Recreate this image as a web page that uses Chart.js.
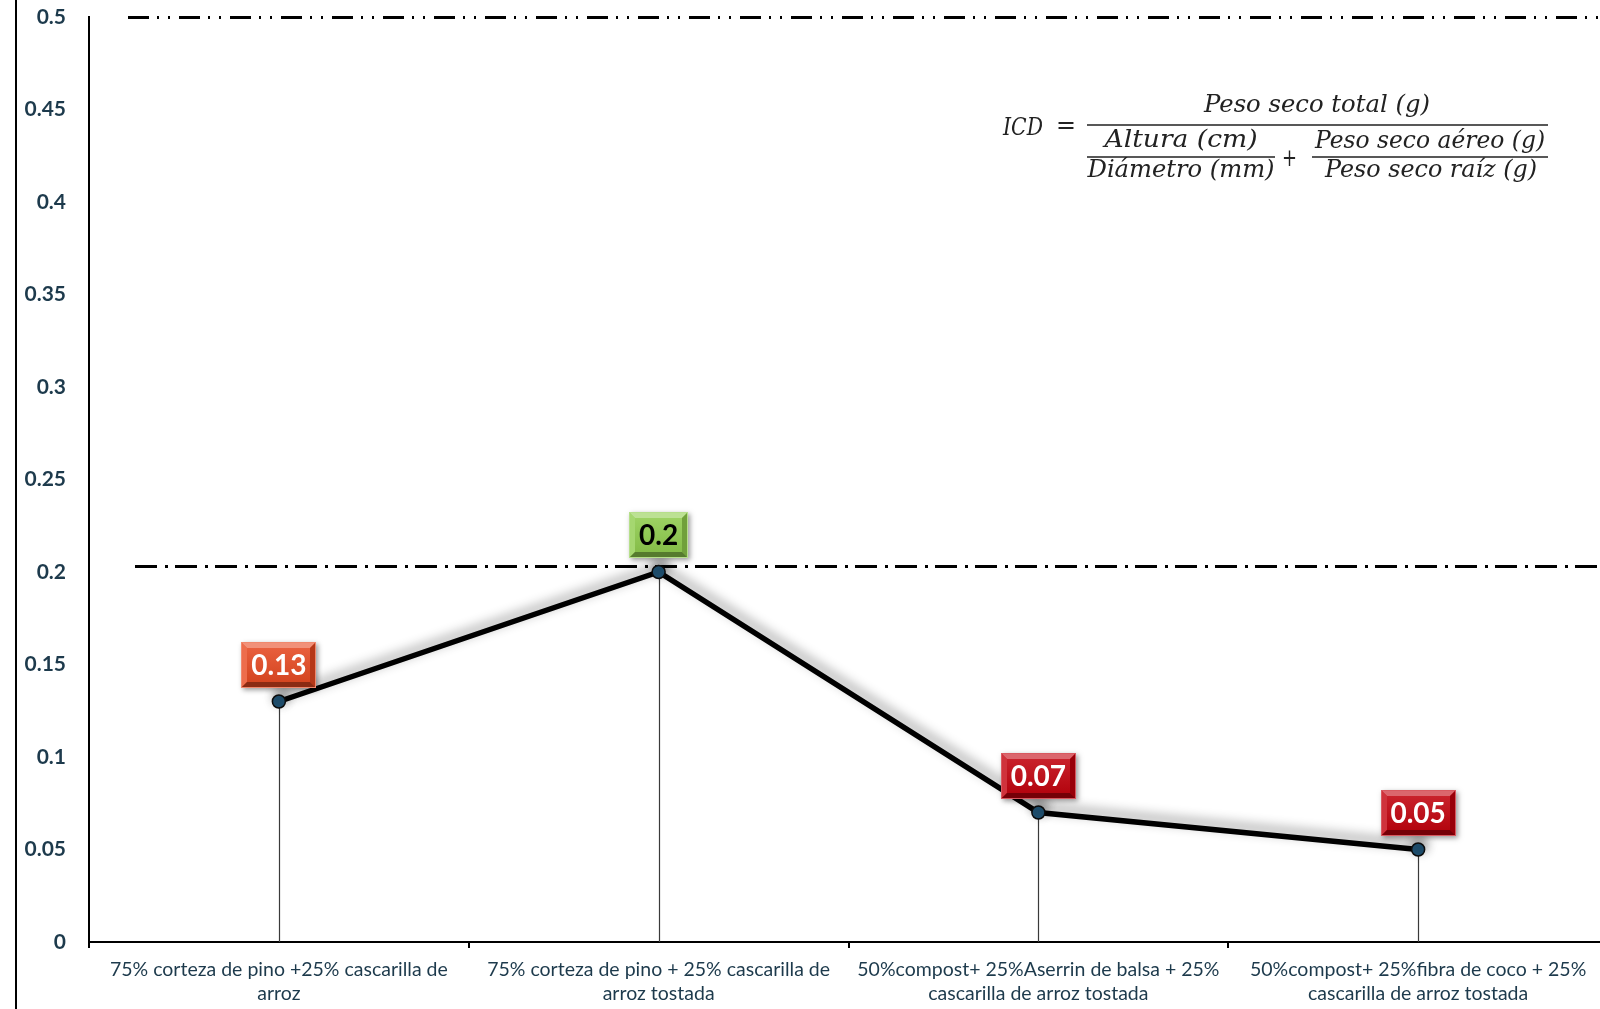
<!DOCTYPE html>
<html>
<head>
<meta charset="utf-8">
<script src="https://cdn.jsdelivr.net/npm/chart.js@4"></script>
<style>
  html, body { margin: 0; padding: 0; background: #fff; overflow: hidden; }
  #wrap { width: 1600px; height: 1009px; overflow: hidden; position: relative; }
  canvas { display: block; }
</style>
</head>
<body>
<div id="wrap"><canvas id="c" width="1608" height="1009"></canvas></div>
<script>
// Substrate mixes (two-line axis labels)
const categories = [
  ["75% corteza de pino +25% cascarilla de", "arroz"],
  ["75% corteza de pino + 25% cascarilla de", "arroz tostada"],
  ["50%compost+ 25%Aserrin de balsa + 25%", "cascarilla de arroz tostada"],
  ["50%compost+ 25%fibra de coco + 25%", "cascarilla de arroz tostada"]
];
// Dickson quality index per mix
const icdValues = [0.13, 0.2, 0.07, 0.05];
// Y axis range and step
const yMin = 0;
const yMax = 0.5;
const yStep = 0.05;
// Horizontal reference levels
const referenceLines = [0.5, 0.203];

// Styling for the value tags
const tagFills = ['#e8481f', '#8fcd4c', '#c3000b', '#c3000b'];
const tagText = ['#ffffff', '#000000', '#ffffff', '#ffffff'];

const axisText = '#1d3a4c';

function shade(hex, amt) {
  const n = parseInt(hex.slice(1), 16);
  let r = (n >> 16) & 255, g = (n >> 8) & 255, b = n & 255;
  const f = v => Math.max(0, Math.min(255, Math.round(amt >= 0 ? v + (255 - v) * amt : v * (1 + amt))));
  return 'rgb(' + f(r) + ',' + f(g) + ',' + f(b) + ')';
}

const framePlugin = {
  id: 'frame',
  afterDraw(chart) {
    const ctx = chart.ctx;
    ctx.save();
    ctx.strokeStyle = '#000';
    ctx.lineWidth = 2;
    ctx.beginPath();
    ctx.moveTo(16, 0);
    ctx.lineTo(16, chart.height);
    ctx.stroke();
    ctx.restore();
  }
};

const refLinePlugin = {
  id: 'refLines',
  beforeDatasetsDraw(chart) {
    const ctx = chart.ctx;
    const y = chart.scales.y;
    const right = chart.chartArea.right;
    const styles = [
      { start: 128, dash: [21, 8, 2, 9, 2, 9] },
      { start: 135, dash: [22, 8, 3, 7] }
    ];
    ctx.save();
    referenceLines.forEach((v, i) => {
      const py = Math.round(y.getPixelForValue(v)) + 0.5;
      const s = styles[i] || styles[1];
      ctx.strokeStyle = '#000';
      ctx.lineWidth = 3;
      ctx.setLineDash(s.dash);
      ctx.beginPath();
      ctx.moveTo(s.start, py);
      ctx.lineTo(right, py);
      ctx.stroke();
    });
    ctx.restore();
  }
};

const dropLinePlugin = {
  id: 'dropLines',
  beforeDatasetsDraw(chart) {
    const ctx = chart.ctx;
    const meta = chart.getDatasetMeta(0);
    const bottom = chart.chartArea.bottom;
    ctx.save();
    ctx.strokeStyle = '#3a3a3a';
    ctx.lineWidth = 1.2;
    meta.data.forEach(pt => {
      const x = Math.round(pt.x) + 0.5;
      ctx.beginPath();
      ctx.moveTo(x, pt.y);
      ctx.lineTo(x, bottom);
      ctx.stroke();
    });
    ctx.restore();
  }
};

const lineShadowPlugin = {
  id: 'lineShadow',
  beforeDatasetsDraw(chart) {
    const ctx = chart.ctx;
    ctx.save();
    ctx.shadowColor = 'rgba(0,0,0,0.45)';
    ctx.shadowBlur = 12;
    ctx.shadowOffsetX = 2;
    ctx.shadowOffsetY = -5;
  },
  afterDatasetsDraw(chart) {
    chart.ctx.restore();
  }
};

const tagPlugin = {
  id: 'valueTags',
  afterDatasetsDraw(chart) {
    const ctx = chart.ctx;
    const meta = chart.getDatasetMeta(0);
    ctx.save();
    ctx.font = 'bold 28px Lato, "Open Sans", sans-serif';
    meta.data.forEach((pt, i) => {
      const text = String(icdValues[i]);
      const tw = ctx.measureText(text).width;
      const w = Math.round(tw + 20);
      const h = 46;
      const x0 = Math.round(pt.x - w / 2);
      const y1 = Math.round(pt.y - 14);
      const y0 = y1 - h;
      const base = tagFills[i];
      const bv = 6;

      // soft drop shadow
      ctx.save();
      ctx.shadowColor = 'rgba(0,0,0,0.4)';
      ctx.shadowBlur = 5;
      ctx.shadowOffsetX = 2;
      ctx.shadowOffsetY = 2;
      ctx.fillStyle = base;
      ctx.fillRect(x0, y0, w, h);
      ctx.restore();

      // body gradient
      const g = ctx.createLinearGradient(0, y0, 0, y1);
      g.addColorStop(0, shade(base, 0.15));
      g.addColorStop(1, shade(base, -0.1));
      ctx.fillStyle = g;
      ctx.fillRect(x0, y0, w, h);

      // bevel edges
      const edge = (pts, col) => {
        ctx.fillStyle = col;
        ctx.beginPath();
        ctx.moveTo(pts[0][0], pts[0][1]);
        for (let k = 1; k < pts.length; k++) ctx.lineTo(pts[k][0], pts[k][1]);
        ctx.closePath();
        ctx.fill();
      };
      const x1 = x0 + w;
      edge([[x0, y0], [x1, y0], [x1 - bv, y0 + bv], [x0 + bv, y0 + bv]], shade(base, 0.4));
      edge([[x0, y0], [x0 + bv, y0 + bv], [x0 + bv, y1 - bv], [x0, y1]], shade(base, 0.2));
      edge([[x1, y0], [x1, y1], [x1 - bv, y1 - bv], [x1 - bv, y0 + bv]], shade(base, -0.22));
      edge([[x0, y1], [x0 + bv, y1 - bv], [x1 - bv, y1 - bv], [x1, y1]], shade(base, -0.4));
      ctx.strokeStyle = shade(base, 0.35);
      ctx.lineWidth = 1;
      ctx.strokeRect(x0 + 0.5, y0 + 0.5, w - 1, h - 1);

      ctx.fillStyle = tagText[i];
      ctx.textAlign = 'center';
      ctx.textBaseline = 'middle';
      ctx.fillText(text, pt.x, y0 + h / 2 + 1);
    });
    ctx.restore();
  }
};

// Dickson index formula, drawn in the upper right of the plot
const formulaPlugin = {
  id: 'formula',
  afterDraw(chart) {
    const ctx = chart.ctx;
    const fam = '"DejaVu Serif", "Liberation Serif", serif';
    // draw text centred at cx, stretched/compressed to the given width
    const fit = (text, cx, base, width, font) => {
      ctx.font = font;
      const w = ctx.measureText(text).width;
      const sx = width / w;
      ctx.save();
      ctx.translate(cx, base);
      ctx.scale(sx, 1);
      ctx.textAlign = 'center';
      ctx.fillText(text, 0, 0);
      ctx.restore();
    };
    ctx.save();
    ctx.fillStyle = '#222';
    ctx.strokeStyle = '#222';
    ctx.textBaseline = 'alphabetic';
    const it = 'italic 24px ' + fam;
    const up = '24px ' + fam;
    fit('ICD', 1023, 135, 40, it);
    fit('=', 1066, 133, 20, up);
    fit('Peso seco total (g)', 1317, 112, 226, it);
    fit('Altura (cm)', 1181, 147, 153, it);
    fit('Diámetro (mm)', 1181, 177, 187, it);
    fit('+', 1289.5, 166, 15, up);
    fit('Peso seco aéreo (g)', 1430, 148, 230, it);
    fit('Peso seco raíz (g)', 1431, 177, 212, it);
    ctx.lineWidth = 1.6;
    ctx.beginPath();
    ctx.moveTo(1087, 125); ctx.lineTo(1548, 125);
    ctx.moveTo(1087, 157); ctx.lineTo(1275, 157);
    ctx.moveTo(1312, 157); ctx.lineTo(1548, 157);
    ctx.stroke();
    ctx.restore();
  }
};

new Chart(document.getElementById('c'), {
  type: 'line',
  data: {
    labels: categories,
    datasets: [{
      data: icdValues,
      borderColor: '#000',
      borderWidth: 5.5,
      tension: 0,
      pointRadius: 6.5,
      pointBackgroundColor: '#1f5070',
      pointBorderColor: '#0b0b0b',
      pointBorderWidth: 1.5
    }]
  },
  options: {
    responsive: false,
    devicePixelRatio: 1,
    animation: false,
    layout: { autoPadding: false, padding: { top: 17, left: 0, right: 0, bottom: 0 } },
    plugins: { legend: { display: false }, tooltip: { enabled: false } },
    scales: {
      x: {
        offset: true,
        grid: { display: true, offset: true, drawOnChartArea: false, drawTicks: true, tickLength: 6, color: '#000', lineWidth: 2 },
        border: { display: true, color: '#000', width: 2 },
        ticks: {
          autoSkip: false, maxRotation: 0, minRotation: 0,
          color: axisText, padding: 10,
          font: { family: 'Lato, "Open Sans", sans-serif', size: 19.5, lineHeight: 1.23 }
        },
        afterFit(s) { s.height = 67; s.paddingLeft = 0; s.paddingRight = 0; }
      },
      y: {
        min: yMin, max: yMax,
        grid: { display: true, drawOnChartArea: false, drawTicks: false },
        border: { display: true, color: '#000', width: 2 },
        ticks: {
          stepSize: yStep,
          padding: 23,
          color: axisText,
          font: { family: 'Lato, "Open Sans", sans-serif', size: 21, weight: 'bold' },
          callback: v => String(+v.toFixed(2))
        },
        afterFit(s) { s.width = 89; s.paddingTop = 0; s.paddingBottom = 0; }
      }
    }
  },
  plugins: [framePlugin, refLinePlugin, dropLinePlugin, lineShadowPlugin, tagPlugin, formulaPlugin]
});
</script>
</body>
</html>
